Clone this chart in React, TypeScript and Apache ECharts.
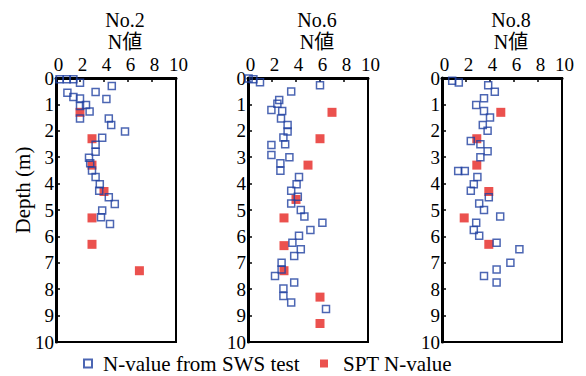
import React, { useEffect, useRef } from "react";
import * as echarts from "echarts";

const FONT = '"Liberation Serif", "Times New Roman", "Noto Sans CJK JP", serif';

const boreholes = ["No.2", "No.6", "No.8"];
const xTitle = "N値";
const yTitle = "Depth (m)";
const swsName = "N-value from SWS test";
const sptName = "SPT N-value";

// No.2
const sws2N = [0.3, 0.9, 1.45, 2.0, 4.65, 3.3, 0.95, 1.45, 2.0, 4.2, 2.5, 2.0, 2.8, 2.0, 4.4, 4.6, 5.75, 3.85, 3.3, 3.3, 2.75, 2.85, 3.0, 3.3, 3.65, 3.6, 4.4, 4.9, 3.85, 3.75, 4.5];
const sws2D = [0.05, 0.05, 0.05, 0.18, 0.3, 0.53, 0.56, 0.72, 0.78, 0.8, 1.02, 1.06, 1.27, 1.53, 1.53, 1.78, 2.03, 2.26, 2.53, 2.79, 3.02, 3.23, 3.5, 3.75, 4.02, 4.27, 4.52, 4.77, 5.02, 5.27, 5.53];
const spt2N = [2.0, 3.0, 3.0, 4.0, 3.0, 3.0, 6.95];
const spt2D = [1.3, 2.3, 3.3, 4.3, 5.3, 6.3, 7.3];

// No.6
const sws6N = [0.05, 0.45, 1.0, 6.0, 3.6, 2.6, 2.45, 1.95, 2.85, 2.75, 3.3, 3.3, 2.95, 3.1, 1.95, 1.95, 3.45, 2.7, 2.7, 4.25, 4.05, 3.6, 4.15, 3.6, 4.4, 4.7, 6.2, 5.2, 4.25, 3.7, 4.4, 3.85, 2.8, 2.8, 2.25, 3.85, 2.95, 2.95, 3.6, 6.5];
const sws6D = [0.02, 0.05, 0.16, 0.27, 0.51, 0.83, 0.98, 1.21, 1.25, 1.53, 1.78, 2.03, 2.25, 2.51, 2.54, 2.92, 3.0, 3.23, 3.51, 3.75, 4.02, 4.27, 4.5, 4.75, 5.0, 5.25, 5.48, 5.76, 5.98, 6.24, 6.49, 6.74, 7.0, 7.25, 7.5, 7.75, 7.97, 8.26, 8.5, 8.75];
const spt6N = [7.0, 6.0, 5.0, 4.0, 3.0, 3.0, 3.0, 6.0, 6.0];
const spt6D = [1.3, 2.3, 3.3, 4.6, 5.3, 6.35, 7.3, 8.3, 9.3];

// No.8
const sws8N = [0.85, 1.4, 3.85, 4.4, 3.5, 2.85, 3.5, 4.0, 3.4, 3.8, 2.4, 3.2, 3.8, 3.2, 1.35, 1.9, 2.95, 2.65, 2.4, 3.9, 3.1, 3.5, 4.85, 2.85, 2.65, 3.1, 4.55, 6.45, 5.7, 4.55, 3.5, 4.55];
const sws8D = [0.1, 0.17, 0.27, 0.52, 0.77, 1.02, 1.25, 1.5, 1.78, 2.0, 2.39, 2.51, 2.77, 3.0, 3.52, 3.52, 3.75, 4.02, 4.27, 4.52, 4.75, 5.0, 5.25, 5.48, 5.76, 5.98, 6.24, 6.49, 7.0, 7.25, 7.5, 7.75];
const spt8N = [4.9, 2.9, 2.9, 3.9, 1.85, 3.9];
const spt8D = [1.3, 2.3, 3.3, 4.3, 5.3, 6.3];

const swsN = [sws2N, sws6N, sws8N];
const swsD = [sws2D, sws6D, sws8D];
const sptN = [spt2N, spt6N, spt8N];
const sptD = [spt2D, spt6D, spt8D];

const zip = (a: number[], b: number[]) => a.map((v, i) => [v, b[i]]);

const BLUE = "#1f40a0";
const RED = "#e62522";
const gridLefts = [56, 248, 442];
const GW = 120;
const GT = 78;
const GH = 264;

export default function App() {
  const ref = useRef<HTMLDivElement>(null);
  useEffect(() => {
    if (!ref.current) return;
    const chart = echarts.init(ref.current, null, { renderer: "svg" });
    const grids = gridLefts.map((l) => ({
      left: l,
      top: GT,
      width: GW,
      height: GH,
      show: true,
      borderColor: "#000",
      borderWidth: 2,
      backgroundColor: "transparent",
    }));
    const xAxes = gridLefts.map((_, i) => ({
      gridIndex: i,
      type: "value",
      position: "top",
      min: 0,
      max: 10,
      interval: 2,
      axisLine: { show: true, onZero: false, lineStyle: { color: "#000", width: 3 } },
      axisTick: { show: true, inside: true, length: 4, lineStyle: { color: "#000", width: 1.5 } },
      axisLabel: { fontSize: 19, color: "#000", fontFamily: FONT, margin: 4, padding: [0, 0, 0, 5] },
      splitLine: { show: false },
    }));
    const yAxes = gridLefts.map((_, i) => ({
      gridIndex: i,
      type: "value",
      inverse: true,
      min: 0,
      max: 10,
      interval: 1,
      axisLine: { show: true, onZero: false, lineStyle: { color: "#000", width: 3 } },
      axisTick: { show: true, inside: true, length: 4, lineStyle: { color: "#000", width: 1.5 } },
      axisLabel: { fontSize: 19, color: "#000", fontFamily: FONT, margin: 2 },
      splitLine: { show: false },
    }));
    const series: any[] = [];
    gridLefts.forEach((_, i) => {
      series.push({
        name: sptName,
        type: "scatter",
        xAxisIndex: i,
        yAxisIndex: i,
        symbol: "rect",
        symbolSize: 9,
        itemStyle: { color: RED },
        data: zip(sptN[i], sptD[i]),
        z: 2,
      });
      series.push({
        name: swsName,
        type: "scatter",
        xAxisIndex: i,
        yAxisIndex: i,
        symbol: "rect",
        symbolSize: 7,
        itemStyle: { color: "rgba(255,255,255,0)", borderColor: BLUE, borderWidth: 1.5 },
        data: zip(swsN[i], swsD[i]),
        z: 3,
      });
    });
    const graphics: any[] = [];
    gridLefts.forEach((l, i) => {
      const cx = l + GW / 2 + 9;
      graphics.push({
        type: "text",
        x: cx,
        y: 30.5,
        style: {
          text: boreholes[i] + "\n" + xTitle,
          fontSize: 20,
          lineHeight: 22,
          fontFamily: FONT,
          fill: "#000",
          align: "center",
          verticalAlign: "middle",
        },
      });
    });
    graphics.push({
      type: "text",
      x: 23,
      y: 190,
      rotation: Math.PI / 2,
      style: { text: yTitle, fontSize: 21, fontFamily: FONT, fill: "#000", align: "center", verticalAlign: "middle" },
    });
    const legendText = (gap: number) => ({
      fontSize: 21,
      lineHeight: 20,
      fontFamily: FONT,
      color: "#000",
      rich: { g: { width: gap, fontSize: 21, lineHeight: 20 } },
    });
    chart.setOption({
      animation: false,
      backgroundColor: "#fff",
      grid: grids,
      xAxis: xAxes,
      yAxis: yAxes,
      legend: [
        {
          data: [swsName],
          left: 81,
          top: 351,
          padding: 2,
          itemWidth: 8,
          itemHeight: 8,
          selectedMode: false,
          formatter: (name: string) => "{g|}" + name,
          textStyle: legendText(6),
        },
        {
          data: [sptName],
          left: 318,
          top: 351,
          padding: 2,
          itemWidth: 8,
          itemHeight: 8,
          selectedMode: false,
          formatter: (name: string) => "{g|}" + name,
          textStyle: legendText(10),
        },
      ],
      graphic: graphics,
      series,
    });
    return () => chart.dispose();
  }, []);
  return <div ref={ref} style={{ position: "fixed", left: 0, top: 0, width: 586, height: 376 }} />;
}
